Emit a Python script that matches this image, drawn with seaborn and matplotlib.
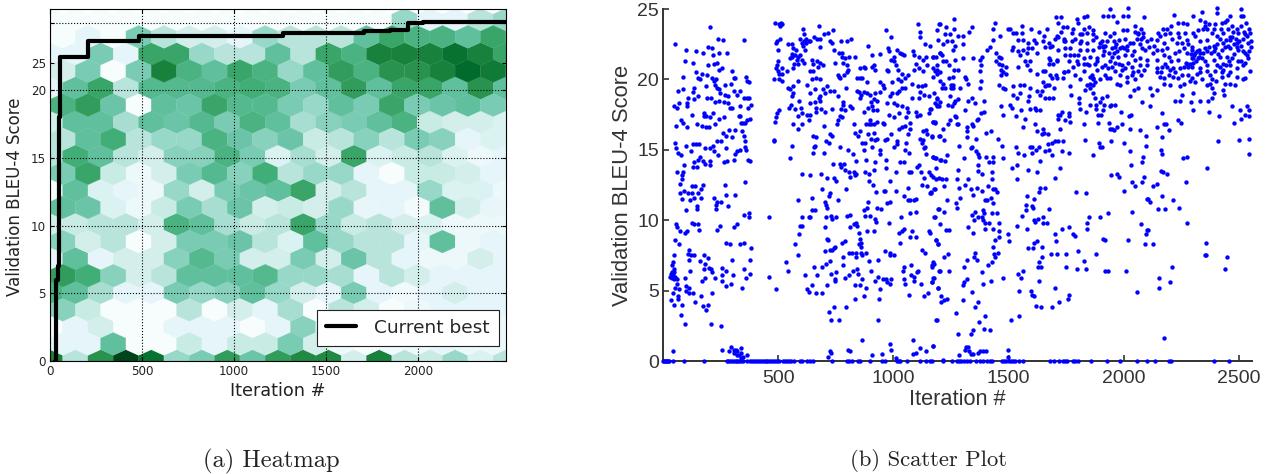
import numpy as np
import pandas as pd
import seaborn as sns
import matplotlib

matplotlib.use("agg")

import matplotlib.pyplot as plt
from matplotlib.colors import PowerNorm

# heatmap shade of every hex cell, bottom row first. even rows have one cell more
hex_rows = [
    [10, 3, 9, 13.5, 11, 4, 5, 8.5, 5.5, 8.5, 9.5, 9.5, 2, 10, 3, 2.5, 4, 1.5, 3],
    [1, 1, 6, 0, 0, 2.5, 1, 2.5, 2.5, 5, 2, 0.5, 0, 0.3, 0.5, 1, 0.5, 0.5],
    [0, 1, 2, 0, 0, 1, 1, 1, 0, 1, 4.5, 1, 0.5, 0, 0.5, 0.5, 0.5, 0.5, 0.5],
    [4.5, 2.5, 0, 0, 0, 3, 0, 2, 1, 3.5, 0, 3, 2, 0, 0.5, 1, 1, 1],
    [7, 6, 3.5, 1, 1, 5, 4, 4.5, 6, 4, 2, 1, 5, 1, 0.3, 1, 2, 1, 1],
    [8.5, 7.5, 4.5, 2, 3, 6, 6, 6, 6.5, 4, 4, 3.5, 1, 3, 2, 1, 1, 1],
    [1, 6, 1, 2, 2, 4.5, 6.5, 5, 2, 2, 5, 2, 5.5, 3, 1, 0.5, 0.5, 2, 1],
    [4.5, 2, 3, 0, 2, 5, 5, 5.5, 3, 1.5, 6, 4, 3, 3, 1, 6, 0.5, 1],
    [2, 2.5, 3, 3, 2, 7, 6, 3.5, 2.5, 3, 8, 4, 2.5, 3, 2, 1.5, 0.5, 0.5, 0.5],
    [6, 5.5, 1.5, 0.5, 2.5, 5, 3.5, 5.5, 2, 2.5, 2, 4, 0.8, 1, 0.2, 6, 2, 0.8],
    [0, 6, 1.5, 1, 0.5, 4, 2, 5, 5.5, 6, 8, 2, 3, 1, 1, 4, 1.5, 1.5, 0.5],
    [5, 8, 2.5, 0.5, 2, 5, 6.5, 4.5, 7.5, 3, 4, 4, 1, 0, 2.5, 2.5, 2, 1],
    [3, 7.5, 6, 3, 2, 4.5, 4.5, 7, 5, 1.5, 3.5, 2, 8, 1.5, 2.5, 3, 1.5, 0.5, 1],
    [3, 6, 7.5, 3, 4, 4, 7, 5.5, 4.5, 5.5, 2.5, 3, 4.5, 3, 5, 4.5, 1, 1.5],
    [2, 6, 6, 3.5, 6, 5.5, 6.5, 5, 7, 6, 3.5, 4.5, 5, 6, 7, 2.5, 2, 2, 1.5],
    [7, 8.5, 5.5, 0, 6, 5.5, 8, 6.5, 6.5, 5, 4, 6, 5, 8, 5, 5.5, 6, 5],
    [1, 6, 8, 3, 6.5, 6.5, 6.5, 7, 7.5, 7, 5, 6, 8.5, 6, 8, 8, 6, 9, 6],
    [2, 5, 0, 5, 10, 7, 6, 8, 7, 4, 6, 8.5, 7, 9, 9, 10, 11.5, 10.5],
    [1, 1, 5, 1, 8, 8, 4, 3, 3, 6, 3, 8, 7, 10, 10, 10, 11, 10, 8],
    [0, 1, 0, 5, 3, 2, 2, 1, 4, 3, 3, 3, 6, 8, 7, 7, 6, 8],
    [0, 0, 0, 0, 0, 0, 0, 0, 0, 0, 0, 0, 0, 0, 4, 1, 1, 3, 4],
]
hex_iter_step = 137.6
hex_score_step = 1.26
hex_levels = 13.5

best_iter = [25, 30, 45, 49, 52, 206, 483, 1267, 1705, 1847, 1945, 2028, 2478]
best_score = [0, 6, 7, 18, 22.45, 23.65, 24.0, 24.25, 24.35, 24.45, 24.97, 25.05, 25.05]

heat_xticks = [0, 500, 1000, 1500, 2000]
heat_grid_yticks = [0, 5, 10, 15, 20, 25]
heat_ytick_labels = ["0", "5", "10", "15", "20", ""]
heat_odd_ytick = [22]
heat_odd_ylabel = ["25"]
scatter_xticks = [500, 1000, 1500, 2000, 2500]
scatter_yticks = [0, 5, 10, 15, 20, 25]

zero_iter = [2, 6, 10, 14, 18, 22, 28, 43, 91, 178, 276, 282, 290, 298, 306, 315, 322, 330, 338, 349,
             363, 378, 386, 395, 403, 412, 420, 428, 437, 445, 453, 462, 470, 478, 487, 495, 503, 520,
             530, 538, 547, 555, 567, 595, 605, 625, 640, 652, 735, 798, 808, 820, 848, 856, 899, 950,
             962, 1015, 1022, 1030, 1060, 1117, 1141, 1166, 1159, 1217, 1253, 1275, 1285, 1295, 1305,
             1320, 1333, 1359, 1376, 1390, 1405, 1420, 1427, 1470, 1480, 1490, 1500, 1510, 1520, 1528,
             1547, 1564, 1680, 1695, 1720, 1735, 1745, 1753, 1779, 1790, 1800, 1859, 1925, 1984, 2059,
             2102, 2134, 2195, 2206, 2392, 2455]

points_0_400 = [
    (52, 22.5), (205, 23.7), (239, 22.9), (262, 22.8), (352, 22.8), (100, 22.1), (142, 22.0), (172, 21.9),
    (197, 22.3), (211, 22.2), (217, 21.7), (245, 21.9), (278, 21.9), (94, 21.3), (132, 21.2), (194, 21.0),
    (222, 21.1), (233, 21.2), (245, 20.7), (254, 20.8), (298, 20.6), (87, 20.2), (145, 20.5), (168, 20.4),
    (193, 20.3), (154, 20.1), (161, 20.0), (212, 20.1), (222, 19.9), (230, 20.0), (306, 20.1), (313, 20.1),
    (359, 20.2), (365, 19.9), (372, 19.8), (65, 19.2), (88, 19.3), (136, 19.4), (187, 19.5), (226, 19.6),
    (233, 19.4), (241, 19.3), (270, 19.6), (294, 19.7), (309, 19.2), (335, 19.2), (129, 19.1), (110, 18.7),
    (154, 18.8), (190, 18.7), (207, 18.7), (248, 19.0), (267, 18.9), (280, 18.8), (320, 18.9), (350, 18.7),
    (364, 18.7), (375, 18.7), (48, 18.1), (59, 18.0), (71, 18.3), (103, 18.3), (106, 18.1), (135, 18.6),
    (226, 18.4), (245, 18.5), (265, 18.4), (284, 18.3), (291, 18.0), (301, 18.0), (332, 18.1), (367, 18.0),
    (381, 18.2), (125, 17.5), (178, 17.6), (219, 17.6), (178, 17.4), (187, 17.4), (204, 17.3), (265, 17.3),
    (328, 17.4), (335, 17.4), (78, 17.1), (86, 16.9), (57, 16.7), (106, 16.6), (146, 16.8), (168, 16.7),
    (187, 16.6), (199, 16.6), (226, 16.8), (245, 17.2), (285, 16.4), (313, 16.4), (338, 16.9), (346, 16.9),
    (357, 16.9), (364, 17.1), (378, 17.2), (342, 16.3), (298, 15.9), (274, 16.0), (262, 16.2), (252, 15.6),
    (236, 15.6), (352, 16.0), (54, 15.5), (57, 15.1), (67, 14.8), (78, 14.6), (100, 15.3), (132, 15.4),
    (145, 15.4), (155, 15.4), (120, 14.9), (184, 15.1), (204, 15.1), (216, 15.3), (223, 14.9), (238, 14.6),
    (274, 15.1), (313, 14.7), (323, 14.9), (332, 15.0), (357, 15.6), (357, 15.2), (361, 15.0), (371, 14.3),
    (378, 14.2), (135, 14.1), (154, 14.3), (161, 14.5), (172, 14.2), (184, 14.0), (204, 14.2), (204, 13.9),
    (265, 14.1), (278, 14.2), (309, 14.3), (91, 13.9), (132, 13.8), (149, 13.8), (62, 13.4), (88, 13.4),
    (83, 13.2), (81, 12.9), (74, 12.6), (125, 12.4), (139, 12.4), (172, 12.5), (269, 12.5), (358, 12.7),
    (167, 12.2), (91, 12.1), (74, 11.9), (110, 11.9), (125, 11.9), (154, 11.9), (274, 11.8), (313, 11.8),
    (81, 11.5), (117, 11.4), (136, 11.6), (167, 11.6), (221, 11.6), (233, 11.3), (251, 11.3), (230, 11.1),
    (284, 11.0), (149, 11.0), (146, 10.8), (100, 10.7), (229, 10.8), (352, 10.4), (372, 10.5), (374, 10.2),
    (57, 9.7), (62, 9.5), (75, 9.2), (97, 9.1), (106, 9.2), (127, 9.8), (135, 9.7), (152, 9.7), (158, 9.3),
    (235, 9.3), (246, 9.6), (306, 9.5), (320, 9.7), (54, 8.6), (70, 8.3), (275, 8.4), (290, 8.3), (332, 8.3),
    (351, 8.4), (380, 8.0), (114, 7.9), (49, 7.5), (110, 7.6), (120, 7.5), (135, 7.5), (112, 7.2), (180, 7.5),
    (194, 7.3), (161, 7.1), (301, 7.2), (377, 7.2), (182, 6.9), (42, 7.0), (38, 6.8), (255, 6.6), (199, 6.6),
    (209, 6.5), (176, 6.5), (118, 6.4), (352, 6.5), (48, 6.5), (38, 6.3), (48, 6.3), (35, 6.2), (42, 6.1),
    (30, 6.0), (51, 6.0), (39, 5.9), (49, 5.8), (213, 6.3), (275, 6.4), (258, 6.1), (304, 6.1), (377, 6.2),
    (362, 5.9), (184, 5.9), (225, 5.9), (94, 5.9), (168, 5.7), (257, 5.7), (59, 5.8), (61, 5.5), (297, 5.5),
    (54, 5.2), (71, 5.1), (101, 5.3), (114, 5.2), (272, 5.3), (343, 5.2), (100, 5.0), (114, 4.8), (129, 4.8),
    (42, 4.8), (212, 4.8), (64, 4.6), (165, 4.6), (65, 4.4), (33, 4.3), (138, 4.2), (48, 4.0), (84, 4.0),
    (174, 3.9), (194, 4.0), (188, 3.6), (80, 3.3), (94, 2.6), (207, 2.6), (251, 2.5), (43, 0.7), (257, 0.8),
    (288, 0.7), (294, 1.0), (310, 0.8), (317, 0.8), (323, 0.7), (339, 0.9), (309, 0.6), (338, 0.6), (320, 0.4),
    (328, 0.4), (349, 0.3), (366, 0.4), (340, 0.2),
]

points_400_800 = [
    (458, 10.2), (485, 24.0), (504, 23.9), (513, 24.0), (509, 23.8), (516, 23.9), (494, 22.7), (490, 22.6),
    (509, 22.9), (499, 22.1), (501, 21.3), (494, 21.0), (491, 20.8), (498, 20.6), (516, 20.8), (505, 20.4),
    (483, 20.0), (502, 20.0), (516, 19.9), (516, 20.4), (538, 20.6), (564, 20.8), (542, 22.5), (559, 22.5),
    (596, 22.9), (606, 23.6), (613, 23.2), (622, 22.9), (632, 22.7), (613, 22.7), (602, 22.6), (607, 22.4),
    (621, 22.6), (639, 22.7), (654, 23.0), (675, 23.8), (668, 22.9), (683, 22.9), (700, 23.2), (718, 23.3),
    (737, 23.5), (726, 22.7), (735, 22.6), (771, 22.7), (800, 22.7), (815, 22.9), (682, 22.3), (616, 22.1),
    (565, 22.2), (578, 22.1), (560, 21.8), (595, 21.7), (588, 21.6), (573, 21.7), (559, 21.6), (549, 21.5),
    (581, 21.4), (603, 21.4), (569, 21.1), (588, 21.1), (612, 21.2), (646, 21.4), (668, 21.3), (680, 21.2),
    (652, 21.1), (674, 20.9), (638, 20.6), (652, 20.6), (696, 21.0), (746, 21.2), (744, 22.1), (765, 21.9),
    (778, 21.9), (790, 21.5), (808, 21.6), (833, 21.6), (776, 21.6), (800, 21.0), (783, 21.2), (804, 20.7),
    (758, 20.3), (769, 20.1), (763, 20.2), (787, 20.3), (797, 20.5), (665, 20.1), (682, 20.0), (646, 20.0),
    (588, 19.9), (542, 19.4), (552, 19.3), (564, 19.5), (562, 19.0), (559, 18.8), (590, 18.5), (627, 19.6),
    (638, 19.0), (660, 19.3), (682, 18.5), (694, 19.3), (711, 19.5), (726, 19.2), (758, 18.8), (741, 19.2),
    (795, 19.4), (675, 18.7), (680, 18.8), (660, 18.4), (636, 18.3), (704, 19.0), (781, 18.4), (783, 18.2),
    (812, 18.1), (820, 18.0), (546, 18.0), (557, 18.2), (574, 17.9), (600, 18.0), (665, 18.0), (684, 17.9),
    (735, 17.9), (771, 17.9), (704, 17.7), (665, 17.7), (627, 17.5), (638, 17.5), (584, 17.4), (602, 17.6),
    (505, 17.8), (494, 17.6), (490, 17.3), (485, 17.0), (634, 17.1), (758, 17.1), (755, 16.8), (767, 17.4),
    (777, 17.3), (791, 17.8), (566, 16.8), (584, 16.5), (603, 16.8), (697, 16.7), (480, 15.6), (483, 15.7),
    (559, 15.3), (552, 14.4), (653, 16.0), (665, 15.9), (660, 15.3), (656, 15.2), (652, 14.8), (700, 14.8),
    (706, 15.6), (723, 16.1), (733, 16.0), (719, 15.5), (767, 15.2), (801, 15.0), (739, 14.0), (766, 14.0),
    (784, 14.0), (771, 13.8), (790, 13.6), (605, 13.3), (638, 13.2), (686, 13.3), (711, 13.0), (744, 13.0),
    (751, 12.8), (793, 12.2), (689, 12.2), (726, 11.9), (719, 11.7), (646, 11.6), (588, 11.4), (758, 11.4),
    (701, 11.3), (709, 11.1), (711, 10.9), (603, 10.2), (632, 10.2), (638, 10.2), (646, 10.7), (660, 10.7),
    (706, 10.2), (729, 10.3), (732, 10.1), (751, 10.2), (799, 10.3), (596, 9.6), (603, 9.6), (701, 9.5),
    (592, 9.0), (458, 6.0), (492, 5.1), (532, 7.0), (542, 6.4), (571, 8.3), (585, 7.5), (617, 6.1), (627, 5.1),
    (635, 4.9), (648, 5.4), (655, 6.7), (668, 6.1), (665, 4.8), (688, 4.8), (690, 6.7), (711, 8.7), (716, 8.6),
    (705, 7.8), (723, 7.9), (733, 7.9), (740, 8.0), (746, 8.1), (708, 6.9), (723, 7.1), (728, 6.2), (751, 6.3),
    (747, 5.8), (746, 5.7), (711, 5.4), (775, 8.4), (791, 8.5), (783, 7.4), (741, 3.8), (719, 3.5), (729, 2.9),
    (762, 2.9), (795, 3.8), (781, 6.8), (788, 5.9), (716, 0.3), (723, 0.7), (729, 0.6),
]

points_800_1200 = [
    (805, 7.7), (819, 7.7), (836, 7.7), (808, 6.1), (825, 6.4), (842, 6.5), (845, 6.2), (803, 0.8), (810, 0.7),
    (865, 1.5), (842, 9.6), (849, 9.1), (885, 9.2), (917, 9.2), (856, 8.7), (859, 8.4), (849, 8.3), (861, 8.1),
    (859, 7.7), (881, 7.7), (839, 7.4), (864, 7.5), (893, 7.1), (903, 6.4), (864, 5.8), (835, 5.4), (856, 5.4),
    (883, 5.2), (922, 5.7), (932, 6.0), (941, 5.1), (874, 4.6), (936, 4.4), (832, 4.4), (932, 2.9), (954, 5.8),
    (969, 5.8), (972, 5.6), (984, 5.5), (989, 5.8), (962, 7.8), (984, 7.7), (987, 7.5), (1001, 7.5), (933, 7.2),
    (1027, 8.4), (1023, 9.1), (1035, 9.2), (1048, 9.4), (1074, 8.8), (1096, 8.8), (1080, 9.2), (981, 9.8),
    (1045, 6.7), (1042, 6.4), (1077, 6.8), (1103, 6.3), (1107, 6.4), (1045, 5.8), (1049, 5.5), (1078, 6.1),
    (1091, 6.0), (1091, 5.7), (1120, 5.5), (1068, 4.7), (1132, 4.6), (1149, 4.8), (1175, 6.9), (1168, 6.8),
    (1175, 5.9), (1168, 5.6), (1193, 5.2), (1125, 7.9), (1139, 7.7), (1154, 9.2), (1158, 9.1), (1183, 8.6),
    (1193, 8.3), (1188, 2.9), (1200, 6.4), (909, 0.4), (950, 0.5), (987, 1.2), (991, 0.8), (1013, 0.2),
    (1084, 1.5), (1085, 0.5), (1096, 0.6), (1117, 0.9), (1143, 0.7), (1171, 1.1), (967, 23.5), (991, 23.0),
    (891, 22.4), (975, 22.2), (979, 22.0), (1016, 22.1), (943, 21.8), (907, 21.7), (1003, 21.6), (1030, 21.9),
    (1038, 21.8), (1048, 21.7), (1083, 22.0), (1088, 21.7), (1107, 23.9), (1114, 23.4), (1114, 23.0),
    (1139, 22.5), (1157, 22.4), (1201, 23.9), (1193, 22.8), (1110, 21.6), (1129, 21.4), (1143, 21.6),
    (1172, 21.6), (1184, 21.6), (1201, 21.9), (990, 21.4), (1003, 21.3), (972, 20.7), (978, 20.6), (1009, 21.0),
    (1019, 20.7), (854, 20.8), (871, 20.9), (878, 20.8), (907, 20.9), (914, 21.0), (919, 20.7), (1038, 20.4),
    (1051, 20.1), (1065, 20.3), (1096, 21.1), (1091, 20.7), (1113, 20.8), (1129, 20.6), (1145, 21.0),
    (1172, 20.8), (1187, 20.7), (1201, 20.5), (842, 20.1), (854, 20.1), (864, 20.1), (885, 19.8), (943, 19.8),
    (956, 19.6), (959, 19.4), (994, 19.8), (1020, 20.0), (1033, 19.9), (1038, 19.4), (1051, 19.4), (1081, 19.7),
    (1105, 19.5), (1123, 19.5), (1139, 19.6), (1117, 19.1), (1132, 18.9), (1154, 18.8), (842, 19.2), (849, 19.1),
    (859, 18.9), (871, 19.1), (885, 19.0), (897, 18.9), (920, 19.0), (941, 19.1), (994, 19.0), (987, 18.8),
    (1023, 19.2), (1016, 19.0), (1081, 18.7), (1110, 18.7), (1175, 19.0), (1191, 18.7), (1201, 18.4), (929, 18.5),
    (916, 18.6), (903, 18.4), (856, 18.7), (972, 18.3), (1016, 18.2), (1001, 18.3), (1038, 18.1), (1187, 18.2),
    (1197, 18.1), (871, 17.7), (888, 18.0), (907, 18.1), (910, 17.8), (929, 17.8), (979, 17.5), (1001, 17.3),
    (1023, 17.6), (1059, 18.0), (1062, 17.7), (1096, 17.7), (1103, 17.4), (1056, 17.3), (1117, 17.5), (1154, 17.6),
    (1161, 17.9), (897, 17.1), (893, 16.8), (882, 16.8), (903, 16.8), (914, 16.8), (929, 17.0), (954, 16.9),
    (957, 16.8), (1023, 16.5), (1038, 16.6), (1052, 16.7), (1074, 16.9), (1074, 16.5), (1172, 17.0), (1180, 16.9),
    (827, 16.8), (833, 16.2), (845, 16.0), (857, 16.3), (890, 16.1), (915, 16.2), (930, 15.8), (921, 15.7),
    (902, 15.8), (965, 15.7), (970, 15.8), (990, 16.1), (1065, 16.1), (1114, 15.8), (1129, 16.3), (1140, 16.4),
    (1146, 16.1), (1168, 16.0), (1200, 16.0), (1129, 15.7), (1123, 15.5), (1137, 15.2), (864, 15.5), (878, 15.5),
    (872, 15.0), (907, 15.2), (943, 15.0), (941, 14.7), (1003, 15.2), (1014, 15.4), (1016, 15.6), (1056, 15.5),
    (1052, 15.0), (1066, 14.8), (1132, 15.1), (1140, 14.7), (1172, 14.5), (1183, 14.4), (1201, 14.3), (826, 14.7),
    (838, 14.2), (879, 14.3), (922, 14.1), (968, 14.3), (1030, 14.1), (1045, 14.1), (1110, 13.9), (1103, 13.8),
    (968, 13.7), (914, 13.6), (878, 13.4), (893, 13.3), (809, 13.4), (827, 13.4), (839, 13.3), (835, 13.2),
    (813, 13.1), (1013, 13.4), (1066, 13.4), (1077, 13.4), (1120, 13.4), (1154, 13.4), (1161, 13.2), (1132, 13.0),
    (1172, 13.1), (1183, 12.9), (1197, 13.0), (895, 12.8), (987, 12.8), (911, 12.5), (1124, 12.5), (1146, 12.4),
    (926, 12.0), (958, 12.1), (962, 12.1), (1009, 12.1), (1062, 12.3), (1161, 12.0), (1181, 12.2), (1165, 11.9),
    (1048, 11.7), (1062, 11.4), (1074, 11.4), (1088, 11.4), (1096, 11.5), (890, 11.3), (984, 11.3), (972, 11.2),
    (871, 10.7), (885, 10.9), (929, 10.9), (948, 10.8), (878, 10.3), (900, 10.3), (922, 10.1), (926, 9.9),
    (813, 10.4), (1033, 10.2), (1071, 10.5), (1096, 10.6), (1197, 10.8), (1180, 10.2), (810, 9.5), (828, 9.7),
    (838, 9.8),
]

points_1200_1500 = [
    (1262, 24.3), (1199, 23.9), (1228, 23.7), (1264, 23.6), (1340, 23.7), (1188, 23.5), (1330, 23.4), (1224, 23.2),
    (1246, 23.2), (1282, 23.1), (1304, 23.1), (1232, 22.7), (1253, 22.7), (1214, 22.5), (1304, 22.5), (1267, 22.4),
    (1260, 22.1), (1203, 21.9), (1210, 21.7), (1173, 21.6), (1265, 21.4), (1301, 21.5), (1347, 21.5), (1383, 21.6),
    (1376, 21.4), (1228, 21.3), (1214, 21.3), (1191, 21.0), (1243, 21.0), (1264, 20.7), (1379, 21.0), (1376, 20.6),
    (1278, 20.7), (1181, 20.6), (1188, 20.4), (1173, 20.2), (1257, 20.2), (1243, 20.1), (1311, 20.2), (1315, 20.0),
    (1202, 19.9), (1379, 19.9), (1214, 19.7), (1249, 19.6), (1260, 19.6), (1224, 19.4), (1210, 19.4), (1249, 19.4),
    (1260, 19.4), (1289, 19.4), (1325, 19.7), (1376, 19.4), (1188, 18.6), (1246, 18.8), (1282, 18.6), (1343, 18.7),
    (1325, 18.5), (1181, 18.3), (1268, 18.5), (1238, 18.2), (1253, 18.1), (1263, 18.3), (1354, 18.3), (1391, 18.5),
    (1159, 17.9), (1188, 18.1), (1311, 17.8), (1391, 17.7), (1379, 17.6), (1268, 17.4), (1272, 17.3), (1369, 17.2),
    (1361, 17.1), (1246, 17.1), (1170, 17.0), (1180, 17.0), (1238, 16.8), (1275, 16.8), (1282, 16.8), (1318, 16.6),
    (1340, 16.8), (1347, 16.7), (1214, 16.5), (1318, 16.3), (1320, 15.9), (1422, 16.3), (1403, 16.2), (1166, 15.9),
    (1199, 16.0), (1219, 15.7), (1357, 15.8), (1453, 15.8), (1286, 15.3), (1335, 15.1), (1340, 15.2), (1470, 15.3),
    (1359, 14.9), (1365, 14.7), (1370, 14.5), (1403, 14.5), (1434, 14.5), (1477, 14.4), (1170, 14.5), (1181, 14.4),
    (1205, 14.3), (1223, 14.2), (1234, 14.6), (1307, 14.4), (1416, 14.1), (1434, 14.1), (1365, 13.9), (1185, 13.7),
    (1278, 13.6), (1369, 13.5), (1383, 13.3), (1426, 13.4), (1426, 12.9), (1322, 12.9), (1276, 12.9), (1210, 12.9),
    (1229, 12.9), (1311, 12.5), (1286, 12.3), (1220, 12.4), (1159, 11.9), (1176, 12.2), (1335, 12.2), (1362, 12.3),
    (1383, 12.1), (1412, 12.4), (1434, 12.2), (1441, 12.2), (1451, 12.0), (1289, 11.6), (1347, 11.8), (1231, 11.4),
    (1398, 11.4), (1405, 11.4), (1422, 11.6), (1272, 11.2), (1275, 10.9), (1434, 11.2), (1195, 10.8), (1220, 10.6),
    (1340, 10.4), (1352, 10.6), (1389, 10.7), (1391, 10.5), (1369, 10.2), (1383, 10.2), (1426, 10.5), (1448, 10.5),
    (1177, 10.2), (1351, 10.0), (1388, 10.0), (1202, 9.7), (1398, 9.8), (1416, 9.8), (1460, 9.8), (1228, 9.3),
    (1241, 9.3), (1325, 9.5), (1347, 9.1), (1398, 9.4), (1434, 9.4), (1460, 9.2), (1495, 9.0), (1456, 8.8),
    (1441, 8.6), (1183, 8.6), (1192, 8.3), (1434, 8.1), (1221, 7.4), (1236, 7.6), (1356, 7.7), (1350, 7.4),
    (1362, 7.2), (1318, 7.2), (1453, 7.7), (1438, 7.6), (1441, 7.4), (1426, 7.0), (1409, 6.8), (1306, 6.7),
    (1173, 7.0), (1166, 6.7), (1199, 6.4), (1243, 6.4), (1386, 6.3), (1166, 5.6), (1173, 5.9), (1304, 5.4),
    (1308, 5.6), (1318, 5.8), (1390, 5.5), (1423, 5.7), (1474, 5.9), (1192, 5.2), (1342, 4.9), (1207, 4.6),
    (1221, 4.3), (1206, 4.2), (1232, 4.4), (1302, 4.3), (1366, 4.2), (1354, 3.8), (1272, 3.4), (1396, 3.2),
    (1185, 2.9), (1370, 2.8), (1394, 2.3), (1419, 2.2), (1347, 2.2), (1335, 1.9), (1282, 1.9), (1170, 1.1),
    (1315, 1.0), (1324, 1.0), (1311, 0.8), (1329, 0.7), (1335, 0.5), (1347, 0.5), (1286, 0.4), (1366, 0.6),
    (1376, 0.7), (1388, 0.7), (1403, 0.7), (1496, 0.8), (1496, 0.3), (1217, 0.1),
    (1441, 24.0), (1434, 23.6), (1463, 23.1), (1431, 22.8), (1417, 22.3), (1408, 22.1), (1445, 21.9), (1456, 21.6),
    (1467, 21.5), (1445, 21.3), (1456, 21.1), (1470, 21.0), (1466, 20.7), (1474, 20.5), (1489, 20.9), (1489, 20.4),
    (1467, 20.3), (1456, 19.6), (1474, 19.4), (1485, 19.3),
]

points_1500_2100 = [
    (1538, 9.6), (1578, 9.4), (1613, 9.9), (1648, 9.8), (1666, 9.8), (1699, 9.0), (1732, 9.4), (1764, 9.5),
    (1779, 9.0), (1790, 8.9), (1842, 9.8), (1839, 9.4), (2073, 9.7), (2099, 9.3), (2106, 9.3), (2095, 9.0),
    (1911, 8.7), (1919, 8.6), (2019, 8.6), (2092, 8.3), (1503, 8.5), (1610, 8.4), (1625, 8.5), (1706, 8.5),
    (1586, 8.0), (1607, 8.0), (1644, 8.1), (1801, 7.8), (1685, 7.6), (1709, 7.6), (1749, 7.6), (1880, 7.6),
    (1644, 7.4), (1631, 7.0), (1829, 7.1), (1626, 6.7), (1641, 6.7), (1750, 6.7), (1561, 6.4), (1542, 6.2),
    (1797, 6.5), (1837, 6.5), (1917, 6.4), (1930, 6.4), (2011, 6.4), (1552, 5.9), (1632, 5.7), (1545, 5.0),
    (1597, 5.0), (1699, 5.2), (2059, 4.9), (1603, 4.7), (1612, 4.6), (1761, 4.7), (1757, 4.4), (1720, 4.2),
    (1620, 3.9), (1641, 3.8), (1687, 3.8), (1544, 3.2), (1510, 2.9), (1513, 13.7), (1538, 13.9), (1583, 13.6),
    (1622, 13.4), (1722, 13.7), (1700, 13.0), (1535, 12.9), (1637, 12.3), (1659, 12.3), (1632, 12.0), (1791, 12.0),
    (1836, 11.9), (2001, 12.1), (1579, 11.7), (1611, 11.5), (1574, 11.1), (1600, 11.0), (1607, 10.9), (1576, 10.7),
    (1676, 10.8), (1930, 10.5), (2034, 10.6), (1557, 10.3), (1612, 10.0), (1629, 10.1), (1648, 10.2), (1848, 10.2),
    (1898, 10.2), (1532, 15.2), (1593, 15.2), (1600, 15.2), (1633, 15.2), (1619, 15.0), (1659, 14.9), (1677, 15.0),
    (1672, 15.4), (1687, 15.5), (1701, 15.6), (1716, 15.6), (1735, 15.6), (1730, 14.9), (1764, 14.8), (1690, 14.6),
    (1540, 14.8), (1567, 14.6), (1600, 14.8), (1637, 14.2), (1832, 15.7), (1890, 15.5), (1897, 15.2), (1904, 15.2),
    (1943, 15.6), (2000, 15.5), (1865, 14.6), (2027, 14.9), (2094, 15.3), (2078, 14.1), (2085, 14.5), (2033, 13.9),
    (1945, 13.2), (1972, 13.3), (1979, 13.1), (2088, 13.1), (2034, 12.7), (2080, 12.7), (2048, 12.4), (1506, 18.2),
    (1467, 18.1), (1516, 18.0), (1474, 17.5), (1532, 17.4), (1553, 17.8), (1593, 17.9), (1615, 18.0), (1620, 17.8),
    (1637, 17.8), (1571, 17.2), (1615, 16.8), (1651, 16.5), (1622, 16.3), (1654, 16.2), (1643, 16.1), (1672, 16.1),
    (1561, 16.6), (1723, 16.5), (1713, 17.5), (1723, 17.5), (1733, 17.7), (1712, 17.2), (1745, 17.1), (1764, 17.6),
    (1760, 17.4), (1767, 17.0), (1825, 16.8), (1887, 16.9), (1936, 16.9), (1940, 16.5), (1947, 16.5), (1955, 16.4),
    (1969, 16.6), (1991, 16.8), (2027, 16.5), (2024, 17.4), (2031, 17.5), (1988, 17.7), (1962, 18.2), (1940, 18.1),
    (1943, 18.2), (1908, 17.8), (1889, 17.5), (1899, 17.5), (1836, 17.7), (1807, 18.3), (1810, 17.9), (1854, 18.2),
    (1878, 18.2), (1878, 17.9), (1914, 18.2), (2080, 18.4), (2071, 16.4), (2095, 16.0),
    (1521, 19.5), (1550, 19.6), (1568, 19.6), (1593, 19.4), (1521, 18.9), (1538, 18.7), (1550, 19.0), (1589, 18.8),
    (1586, 18.5), (1622, 19.2), (1644, 19.2), (1658, 19.5), (1673, 19.6), (1637, 18.9), (1658, 18.7), (1673, 18.7),
    (1694, 18.7), (1697, 19.4), (1706, 20.3), (1709, 20.1), (1690, 20.1), (1658, 20.6), (1673, 21.5), (1680, 21.4),
    (1694, 21.1), (1709, 21.4), (1738, 20.55), (1757, 20.6), (1735, 20.1), (1767, 19.5), (1770, 18.9), (1806, 18.7),
    (1832, 19.25), (1854, 19.7), (1868, 19.6), (1875, 19.8), (1854, 20.2), (1865, 20.1), (1839, 19.6), (1851, 19.4),
    (1868, 19.0), (1875, 18.7), (1904, 18.7), (1926, 18.8), (1897, 18.4), (2027, 18.8), (2063, 19.4), (2044, 19.25),
    (1706, 24.4), (1726, 24.4), (1712, 24.0), (1735, 23.7), (1752, 23.7), (1798, 24.3), (1827, 24.4), (1842, 24.5),
    (1911, 24.5), (1930, 24.5), (1952, 24.5), (1940, 25.0), (1998, 24.5), (2018, 24.5), (2020, 25.1), (1972, 24.1),
    (2049, 23.8), (2073, 23.6), (2088, 24.4), (1506, 23.6), (1496, 23.6), (1521, 23.3), (1532, 23.3), (1558, 23.8),
    (1558, 23.3), (1597, 23.6), (1665, 23.6), (1709, 23.1), (1738, 22.9), (1774, 23.3), (1781, 23.6), (1803, 24.0),
    (1827, 23.6), (1810, 23.2), (1839, 23.3), (1868, 23.5), (1868, 23.2), (1919, 23.3), (1940, 23.1), (1955, 23.3),
    (1998, 23.5), (2013, 23.5), (2063, 23.3), (2082, 23.3), (1542, 22.8), (1564, 22.8), (1586, 22.6), (1608, 22.8),
    (1651, 22.7), (1677, 22.6), (1716, 23.0), (1745, 22.7), (1774, 22.7), (1810, 22.6), (1839, 22.6), (1868, 22.8),
    (1904, 22.7), (1919, 22.4), (1955, 22.7), (1977, 22.8), (2006, 22.9), (2027, 22.6), (2056, 22.9), (2100, 22.7),
    (1521, 22.3), (1542, 22.0), (1564, 22.1), (1586, 22.2), (1658, 22.3), (1680, 22.3), (1738, 22.7), (1767, 22.2),
    (1810, 22.1), (1839, 22.1), (1868, 22.1), (1890, 22.3), (1911, 22.3), (1962, 22.3), (1991, 22.3), (2013, 22.1),
    (2042, 22.0), (2078, 22.2), (1514, 22.1), (1550, 21.7), (1578, 21.9), (1622, 21.9), (1716, 22.1), (1745, 21.7),
    (1767, 21.7), (1785, 21.7), (1803, 21.7), (1825, 21.5), (1854, 21.6), (1882, 21.5), (1911, 21.7), (1948, 21.6),
    (1976, 21.6), (2006, 21.7), (2034, 21.7), (2071, 21.5), (2100, 21.4), (1571, 21.3), (1593, 21.3), (1542, 20.9),
    (1578, 21.0), (1673, 21.1), (1709, 21.3), (1803, 21.1), (1839, 21.1), (1882, 21.3), (1919, 21.0), (1948, 20.9),
    (1977, 21.1), (2006, 20.8), (2034, 20.9), (2071, 21.0), (2100, 21.0), (1593, 20.7), (1622, 20.4), (1651, 20.6),
    (1680, 20.3), (1738, 20.5), (1825, 20.6), (1861, 20.3), (1882, 20.7), (1919, 20.3), (1940, 20.1), (1991, 20.7),
    (2013, 20.2), (2034, 20.3), (2063, 20.6), (1651, 19.8), (1665, 19.6), (1868, 20.0), (1897, 20.0), (1926, 20.1),
    (1969, 19.7), (1984, 19.6), (2013, 19.8), (2049, 20.0),
]

points_2100_2550 = [
    (2273, 9.8), (2127, 8.3), (2358, 8.4), (2353, 7.5), (2358, 7.5), (2448, 7.4), (2209, 6.7), (2441, 6.5),
    (2154, 5.9), (2202, 5.6), (2153, 5.2), (2175, 1.6), (2166, 15.9), (2160, 15.0), (2167, 14.7), (2408, 15.6),
    (2500, 15.7), (2545, 15.8), (2541, 14.7), (2273, 14.5), (2258, 14.4), (2360, 13.7), (2160, 13.5), (2168, 13.4),
    (2189, 13.3), (2143, 12.6), (2128, 12.4), (2270, 12.7), (2166, 11.7), (2099, 11.5), (2106, 11.5), (2114, 11.3),
    (2214, 11.4), (2146, 10.8), (2179, 10.8), (2240, 10.9), (2114, 18.1), (2165, 17.6), (2144, 16.6), (2172, 16.8),
    (2182, 16.8), (2195, 16.4), (2234, 17.1), (2249, 16.9), (2302, 17.8), (2370, 17.7), (2414, 17.4), (2478, 16.9),
    (2471, 18.1), (2505, 17.8), (2536, 18.1), (2544, 17.8), (2526, 17.5), (2542, 17.4), (2510, 17.2), (2114, 19.4),
    (2143, 19.25), (2122, 18.9), (2172, 19.7), (2201, 19.6), (2244, 19.5), (2251, 18.9), (2222, 18.5), (2244, 18.5),
    (2291, 18.4), (2298, 19.0), (2331, 18.5), (2367, 18.5), (2382, 18.7), (2389, 19.0), (2432, 19.25), (2435, 18.9),
    (2461, 19.7), (2483, 19.6), (2360, 19.6), (2382, 19.4), (2280, 20.3), (2295, 20.1), (2316, 20.4), (2382, 20.0),
    (2374, 19.7), (2425, 20.2), (2454, 20.3), (2490, 20.2), (2516, 20.0), (2526, 20.1), (2548, 20.6), (2143, 20.5),
    (2161, 20.5), (2194, 20.3), (2222, 20.55), (2251, 20.3), (2331, 20.55), (2360, 20.6), (2374, 20.3), (2425, 20.55),
    (2461, 20.55), (2143, 20.8), (2186, 20.9), (2215, 20.8), (2244, 20.8), (2295, 20.9), (2331, 20.8), (2360, 21.0),
    (2403, 21.0), (2432, 21.1), (2461, 21.0), (2490, 20.8), (2519, 21.0), (2143, 21.4), (2172, 21.7), (2194, 21.6),
    (2237, 21.4), (2273, 21.1), (2295, 21.5), (2324, 21.6), (2345, 21.9), (2389, 21.4), (2418, 21.6), (2447, 21.6),
    (2494, 21.3), (2533, 21.7), (2143, 22.1), (2164, 22.1), (2186, 22.2), (2273, 21.9), (2295, 22.1), (2316, 22.0),
    (2360, 22.0), (2389, 22.0), (2425, 22.1), (2461, 22.2), (2497, 22.1), (2526, 21.9), (2551, 22.3), (2143, 22.8),
    (2172, 22.6), (2230, 22.6), (2251, 22.6), (2273, 22.8), (2331, 22.7), (2360, 22.8), (2389, 22.4), (2432, 22.6),
    (2461, 22.8), (2490, 22.6), (2519, 22.9), (2553, 22.7), (2157, 23.1), (2201, 23.3), (2237, 23.3), (2266, 23.3),
    (2309, 23.1), (2345, 23.6), (2360, 23.6), (2382, 23.3), (2403, 23.1), (2432, 23.3), (2461, 23.0), (2497, 23.3),
    (2526, 23.2), (2171, 23.6), (2186, 23.6), (2218, 24.6), (2204, 23.8), (2233, 24.0), (2256, 24.0), (2276, 23.9),
    (2299, 24.5), (2331, 24.2), (2353, 24.1), (2338, 24.8), (2406, 25.1), (2406, 24.7), (2396, 23.9), (2425, 24.0),
    (2447, 24.2), (2461, 24.5), (2468, 23.8), (2508, 25.0), (2508, 24.5), (2516, 24.5), (2531, 24.0), (2545, 23.6),
    (2548, 23.3),
]

# second pass over the crowded top right clusters
points_top_cluster = [
    (2290, 21.8), (2298, 21.5), (2305, 21.7), (2312, 21.3), (2320, 21.5), (2300, 21.2), (2285, 21.1), (2278, 20.9),
    (2310, 21.9), (2325, 22.1), (2295, 22.3), (2330, 21.9), (2340, 21.5), (2350, 21.3), (2268, 21.2), (2260, 20.9),
    (2350, 22.2), (2370, 22.3), (2378, 21.9), (2395, 22.2), (2410, 21.8), (2404, 22.5), (2418, 22.9), (2438, 22.3),
    (2445, 22.8), (2452, 22.4), (2470, 23.0), (2478, 22.5), (2485, 22.9), (2493, 22.3), (2500, 22.7), (2510, 22.4),
    (2518, 22.0), (2480, 21.8), (2470, 21.5), (2455, 21.3), (2445, 21.0), (2430, 20.7), (2415, 20.9), (2395, 20.6),
    (2510, 21.3), (2525, 21.2), (2538, 21.5), (2545, 22.0), (2540, 22.6), (2535, 23.1), (2520, 23.4), (2510, 23.8),
    (2490, 23.6), (2475, 23.4), (2452, 23.6), (2440, 24.1), (2420, 23.6), (2390, 23.6), (2370, 23.9), (2350, 23.8),
    (2320, 23.5), (2300, 23.3), (2280, 22.5), (2260, 22.2), (2240, 22.0), (2220, 21.9), (2205, 21.3), (2180, 21.1),
    (2165, 20.9), (2155, 20.2), (2175, 20.1), (2200, 20.7), (2212, 20.2), (2235, 20.1), (2260, 19.7), (2285, 19.9),
    (2310, 19.8), (2340, 20.0), (2400, 19.9), (2440, 19.7), (2125, 21.9), (2130, 22.4), (2118, 22.9), (2150, 23.3),
    (2180, 23.2), (2210, 22.9), (2240, 23.0), (2070, 22.5), (2060, 23.2), (2085, 23.0), (2075, 22.9), (2050, 23.4),
    (2040, 22.6), (2090, 22.1), (2110, 22.3), (2050, 21.4), (2015, 22.4), (2000, 22.2), (1985, 22.2), (1972, 22.0),
    (1958, 21.9), (1965, 22.5), (1950, 22.2), (1925, 22.7), (1910, 22.4), (1898, 22.6), (1915, 22.0), (1935, 21.9),
    (1940, 21.3), (1960, 21.2), (1990, 21.0), (2020, 21.2), (2040, 20.5), (2075, 20.3), (2088, 20.7), (1985, 20.3),
    (1960, 20.6), (1930, 20.8), (1905, 20.9), (1875, 21.1), (1850, 21.0), (1825, 21.1), (1815, 22.7), (1820, 23.2),
    (1850, 23.7), (1880, 23.0), (1790, 22.9), (1795, 21.3), (1780, 20.9), (1760, 21.3), (1745, 22.2), (1725, 23.4),
    (1700, 22.9), (1690, 22.4), (1655, 23.1), (1630, 23.4), (1620, 22.6), (1600, 22.2), (1790, 20.3), (1810, 20.0),
]

# combine the hand read bands
all_points = (points_0_400 + points_400_800 + points_800_1200 + points_1200_1500
              + points_1500_2100 + points_2100_2550 + points_top_cluster)
scatter_df = pd.DataFrame(all_points, columns=["iteration", "score"])
zero_df = pd.DataFrame({"iteration": zero_iter, "score": np.zeros(len(zero_iter))})
scatter_df = pd.concat([scatter_df, zero_df], ignore_index=True)

# cell centres of the hex lattice
cell_x, cell_y, cell_c = [], [], []
for r, row in enumerate(hex_rows):
    for i, value in enumerate(row):
        offset = 0.0 if r % 2 == 0 else 0.5
        cell_x.append((i + offset) * hex_iter_step)
        cell_y.append(r * hex_score_step)
        cell_c.append(value)

sns.set_style("ticks")
plt.rcParams["font.family"] = ["DejaVu Sans"]

fig = plt.figure(figsize=(12.67, 4.74), dpi=100)
ax_heat = fig.add_axes([50 / 1267, 113 / 474, 456 / 1267, 352 / 474])
ax_scat = fig.add_axes([663 / 1267, 113 / 474, 589 / 1267, 352 / 474])

# left panel
ax_heat.hexbin(
    cell_x,
    cell_y,
    C=cell_c,
    gridsize=(18, 10),
    extent=(0, 18 * hex_iter_step, 0, 20 * hex_score_step),
    cmap=sns.color_palette("BuGn", as_cmap=True),
    norm=PowerNorm(gamma=0.8, vmin=0, vmax=hex_levels),
    linewidths=0.2,
    reduce_C_function=np.mean,
)
best_df = pd.DataFrame({"iteration": best_iter, "score": best_score})
sns.lineplot(
    data=best_df,
    x="iteration",
    y="score",
    estimator=None,
    sort=False,
    drawstyle="steps-post",
    color="black",
    linewidth=3,
    label="Current best",
    zorder=5,
    ax=ax_heat,
)
ax_heat.set_xlim(0, 2478)
ax_heat.set_ylim(0, 26)
ax_heat.set_xticks(heat_xticks)
ax_heat.set_yticks(heat_grid_yticks)
ax_heat.set_yticklabels(heat_ytick_labels)
ax_heat.set_yticks(heat_odd_ytick, labels=heat_odd_ylabel, minor=True)
ax_heat.set_axisbelow(False)
ax_heat.grid(True, which="major", color="black", linestyle=":", linewidth=0.8)
ax_heat.tick_params(which="both", direction="in", length=3, width=0.8, labelsize=8.6, color="black",
                    labelcolor="#222222", pad=3, top=True, right=True)
ax_heat.set_xlabel("Iteration #", fontsize=12.7, color="#222222", labelpad=3)
ax_heat.set_ylabel("Validation BLEU-4 Score", fontsize=12.0, color="#222222")
ax_heat.yaxis.set_label_coords(-0.057, 0.466)
for spine in ax_heat.spines.values():
    spine.set_visible(True)
    spine.set_color("black")
    spine.set_linewidth(0.8)
legend = ax_heat.legend(
    loc="lower right",
    bbox_to_anchor=(0.9845, 0.0426),
    borderaxespad=0,
    fontsize=13.3,
    frameon=True,
    fancybox=False,
    framealpha=1,
    edgecolor="#222222",
    handlelength=1.62,
    handletextpad=0.97,
    borderpad=0.5,
)
legend.get_frame().set_linewidth(0.8)

# right panel
sns.scatterplot(
    data=scatter_df,
    x="iteration",
    y="score",
    color="#0000ff",
    s=10,
    linewidth=0,
    clip_on=False,
    zorder=3,
    ax=ax_scat,
)
ax_scat.set_xlim(0, 2556)
ax_scat.set_ylim(0, 25)
ax_scat.set_xticks(scatter_xticks)
ax_scat.set_yticks(scatter_yticks)
sans = ["Liberation Sans", "DejaVu Sans"]
ax_scat.tick_params(direction="in", length=4.5, width=1.2, labelsize=14, color="#333333", labelcolor="#333333", pad=3)
ax_scat.tick_params(axis="x", pad=6.6)
for label in ax_scat.get_xticklabels() + ax_scat.get_yticklabels():
    label.set_fontfamily(sans)
ax_scat.set_xlabel("Iteration #", fontsize=15.7, color="#333333", family=sans, labelpad=1.5)
ax_scat.set_ylabel("Validation BLEU-4 Score", fontsize=15.8, color="#333333", family=sans, labelpad=3)
sns.despine(ax=ax_scat)
ax_scat.spines["left"].set_color("#333333")
ax_scat.spines["bottom"].set_color("#333333")
ax_scat.spines["left"].set_linewidth(1.4)
ax_scat.spines["bottom"].set_linewidth(1.4)

# captions under the panels
fig.text(271 / 1267, 1 - 461 / 474, "(a) Heatmap", family="cmr10", fontsize=17.7, ha="center", va="center", color="#222222")
fig.text(929 / 1267, 1 - 461 / 474, "(b) Scatter Plot", family="cmr10", fontsize=16.3, ha="center", va="center", color="#222222")

fig.savefig("out.png", dpi=100)
plt.close(fig)
